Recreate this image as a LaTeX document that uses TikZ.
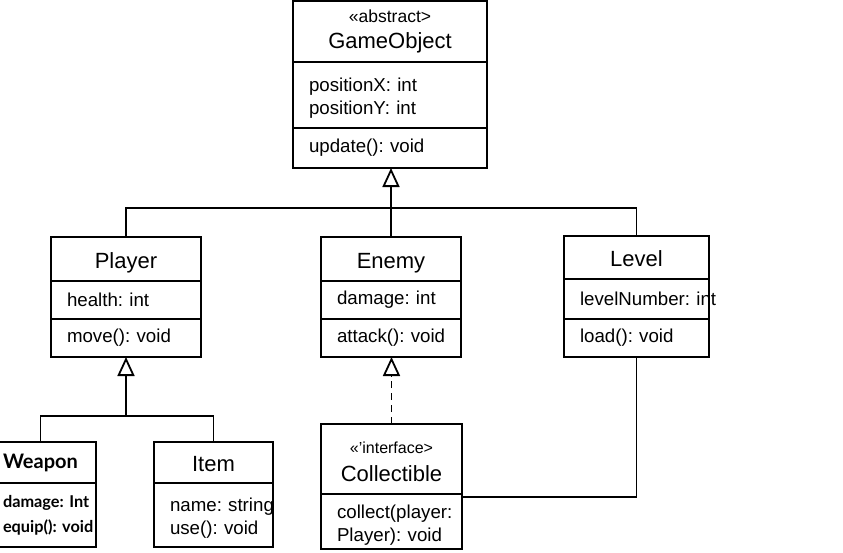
\documentclass[tikz,border=0pt]{standalone}
\usepackage{fontspec}
\setmainfont{Liberation Sans}
\newfontfamily\wpnfont{Lato}
\usetikzlibrary{arrows.meta}
\frenchspacing

\newcommand{\clsfont}{\fontsize{22}{26}\selectfont}
\newcommand{\mbrfont}{\fontsize{18.7}{23}\selectfont}
\newcommand{\stfont}{\fontsize{17.5}{21}\selectfont}

\tikzset{
  umlbox/.style  = {shape=rectangle, draw, line width=1.8pt,
                    outer sep=0pt, inner sep=0pt, anchor=north west},
  cname/.style   = {umlbox, align=center, font=\clsfont},
  cname1/.style  = {cname, text height=18pt, text depth=0pt},
  mbr/.style     = {umlbox, align=left, font=\mbrfont, inner xsep=16pt},
  twoline/.style = {text height=14pt, text depth=#1},
  wpn/.style     = {umlbox, inner xsep=18pt,
                    font=\wpnfont\bfseries\fontsize{16.3}{25}\selectfont},
  link/.style    = {draw, line width=1.8pt},
  inherit/.style = {link, -{Triangle[open, length=19pt, width=17pt]}},
  realize/.style = {inherit, dash pattern=on 7pt off 5pt}
}

\begin{document}
\begin{tikzpicture}
  [
  x = 1pt, y = -1pt,
  every node/.style = {text=black}
  ]
  \useasboundingbox (0,0) rectangle (843,552);

  % base class
  \node[cname, minimum width=194pt, minimum height=61pt] (go) at (293,1)
    {{\stfont <<abstract>}\\GameObject};
  \node[mbr, twoline=21.6pt, text width=162pt, minimum height=66pt] (go-attr) at (go.south west)
    {positionX:~int\\positionY:~int};
  \node[mbr, text width=162pt, minimum height=40pt] (go-meth) at (go-attr.south west)
    {update():~void};

  % second row
  \node[cname1, minimum width=150pt, minimum height=44pt] (pl) at (51,237) {Player};
  \node[mbr, text width=118pt, minimum height=38pt] (pl-attr) at (pl.south west) {health:~int};
  \node[mbr, text width=118pt, minimum height=38pt] (pl-meth) at (pl-attr.south west) {move():~void};

  \node[cname1, minimum width=140pt, minimum height=44pt] (en) at (321,237) {Enemy};
  \node[mbr, text width=108pt, minimum height=38pt] (en-attr) at (en.south west) {damage:~int};
  \node[mbr, text width=108pt, minimum height=38pt] (en-meth) at (en-attr.south west) {attack():~void};

  \node[cname1, minimum width=145pt, minimum height=43pt] (lv) at (564,236) {Level};
  \node[mbr, text width=113pt, minimum height=40pt] (lv-attr) at (lv.south west) {levelNumber:~int};
  \node[mbr, text width=113pt, minimum height=38pt] (lv-meth) at (lv-attr.south west) {load():~void};

  % third row
  \node[cname, minimum width=111pt, minimum height=41pt,
        font=\wpnfont\bfseries\fontsize{20}{24}\selectfont] (wp) at (-15,442) {Weapon};
  \node[wpn, twoline=30pt, align=left, text width=75pt, minimum height=64pt] (wp-attr) at (wp.south west)
    {damage:~Int\\equip():~void};

  \node[cname1, minimum width=119pt, minimum height=41pt] (it) at (154,442) {Item};
  \node[mbr, twoline=20.6pt, text width=87pt, minimum height=64pt] (it-attr) at (it.south west)
    {name:~string\\use():~void};

  \node[cname, text height=44pt, text depth=0pt, minimum width=141pt, minimum height=70pt] (co) at (321,424)
    {{\fontsize{16}{20}\selectfont <<'interface>}\\[2pt]Collectible};
  \node[mbr, twoline=19.6pt, text width=109pt, minimum height=55pt] (co-meth) at (co.south west)
    {collect(player:\\Player):~void};

  % connectors
  \coordinate (hub) at (en.north |- 0,208);
  \draw[link] (pl.north) |- (hub) -| (lv.north);
  \draw[link] (en.north) -- (hub);
  \draw[inherit] (hub) -- (hub |- go-meth.south);

  \coordinate (plhub) at (pl-meth.south |- 0,416);
  \draw[link] (wp.north) |- (plhub) -| (it.north);
  \draw[inherit] (plhub) -- (pl-meth.south);

  \draw[realize] (co.north) -- (co.north |- en-meth.south);
  \draw[link] (lv-meth.south) |- ([yshift=-3pt]co-meth.north east);
\end{tikzpicture}
\end{document}
